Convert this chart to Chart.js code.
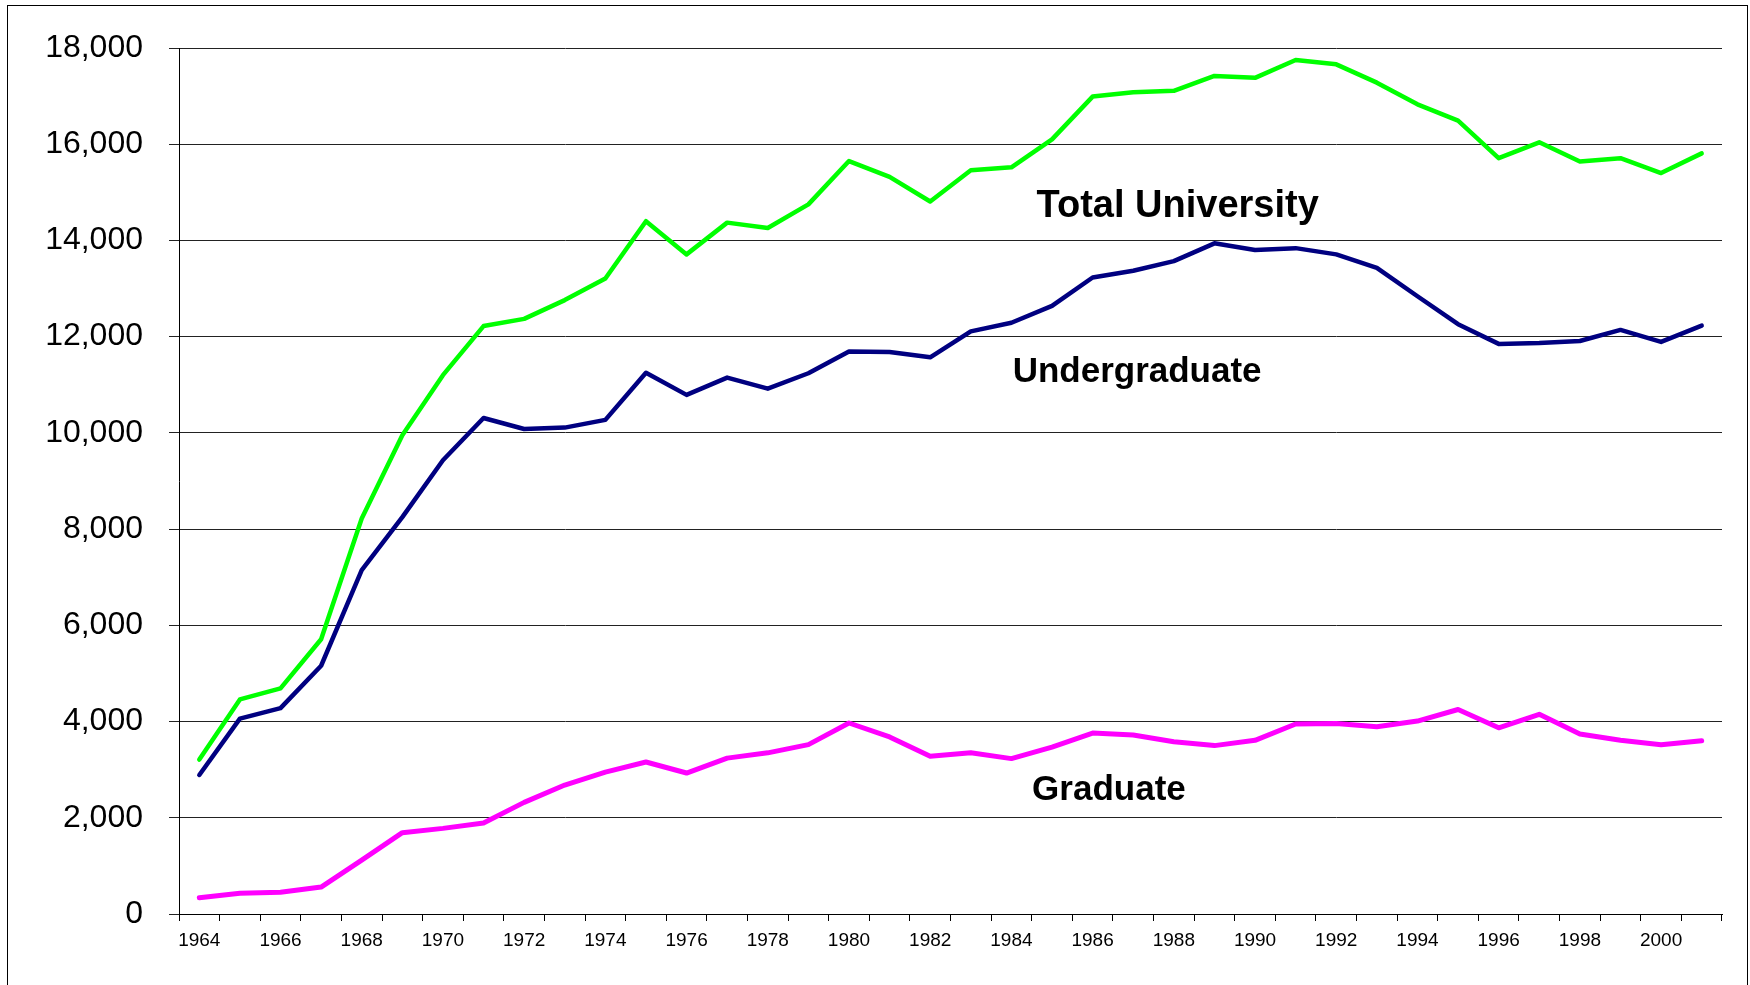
<!DOCTYPE html>
<html>
<head>
<meta charset="utf-8">
<title>University Enrollment</title>
<script src="https://cdn.jsdelivr.net/npm/chart.js@4.4.1/dist/chart.umd.min.js"></script>
<style>
  html, body { margin: 0; padding: 0; background: #fff; overflow: hidden; }
  .frame {
    position: absolute;
    left: 7px;
    top: 5px;
    width: 1741px;
    height: 1000px;
    border: 1px solid #000;
    box-sizing: border-box;
    pointer-events: none;
  }
  #chart { position: absolute; left: 0; top: 0; }
</style>
</head>
<body>
<canvas id="chart" width="1750" height="985"></canvas>
<div class="frame"></div>
<script>
  // years 1964 .. 2001
  const years = [
    "1964", "1965", "1966", "1967", "1968", "1969", "1970", "1971", "1972", "1973",
    "1974", "1975", "1976", "1977", "1978", "1979", "1980", "1981", "1982", "1983",
    "1984", "1985", "1986", "1987", "1988", "1989", "1990", "1991", "1992", "1993",
    "1994", "1995", "1996", "1997", "1998", "1999", "2000", "2001"
  ];

  const totalUniversity = [
    3210, 4460, 4690, 5710, 8220, 9950, 11200, 12220, 12370, 12760,
    13210, 14400, 13710, 14370, 14260, 14750, 15650, 15320, 14810, 15460,
    15520, 16100, 16990, 17080, 17110, 17420, 17380, 17750, 17660, 17280,
    16830, 16490, 15710, 16040, 15640, 15710, 15400, 15810
  ];

  const undergraduate = [
    2890, 4060, 4280, 5160, 7150, 8250, 9430, 10310, 10080, 10110,
    10270, 11250, 10790, 11150, 10920, 11240, 11690, 11680, 11570, 12110,
    12290, 12640, 13230, 13370, 13570, 13940, 13800, 13840, 13710, 13430,
    12840, 12260, 11850, 11870, 11910, 12140, 11890, 12230
  ];

  const graduate = [
    340, 430, 450, 560, 1120, 1690, 1780, 1890, 2320, 2680,
    2950, 3160, 2930, 3240, 3350, 3520, 3970, 3680, 3280, 3350,
    3230, 3470, 3760, 3720, 3580, 3500, 3610, 3950, 3960, 3890,
    4010, 4250, 3870, 4150, 3740, 3610, 3520, 3600
  ];

  const yTicks = [0, 2000, 4000, 6000, 8000, 10000, 12000, 14000, 16000, 18000];

  const seriesNames = ["Total University", "Undergraduate", "Graduate"];

  // text labels placed inside the plot (x = category index, y = value at baseline)
  const seriesLabels = [
    { text: seriesNames[0], at: [20.62, 14490], size: 38 },
    { text: seriesNames[1], at: [20.03, 11060], size: 35 },
    { text: seriesNames[2], at: [20.51, 2370], size: 35 }
  ];

  const FONT = "'Liberation Sans', Arial, Helvetica, sans-serif";

  const inlineLabels = {
    id: "inlineLabels",
    afterDatasetsDraw(chart) {
      const { ctx, scales } = chart;
      ctx.save();
      ctx.fillStyle = "#000";
      ctx.textAlign = "left";
      ctx.textBaseline = "alphabetic";
      seriesLabels.forEach((l) => {
        ctx.font = `bold ${l.size}px ${FONT}`;
        const x = scales.x.getPixelForValue(l.at[0]);
        const y = scales.y.getPixelForValue(l.at[1]);
        ctx.fillText(l.text, x, y);
      });
      ctx.restore();
    }
  };

  const ctx = document.getElementById("chart").getContext("2d");
  new Chart(ctx, {
    type: "line",
    data: {
      labels: years,
      datasets: [
        {
          label: seriesNames[0],
          data: totalUniversity,
          borderColor: "#00FF00",
          borderWidth: 4.5,
        },
        {
          label: seriesNames[1],
          data: undergraduate,
          borderColor: "#000080",
          borderWidth: 4.5,
        },
        {
          label: seriesNames[2],
          data: graduate,
          borderColor: "#FF00FF",
          borderWidth: 5,
        },
      ].map((d) => Object.assign(d, {
        fill: false,
        tension: 0,
        pointRadius: 0,
        pointHoverRadius: 0,
        borderCapStyle: "round",
        borderJoinStyle: "round",
      })),
    },
    options: {
      responsive: false,
      animation: false,
      events: [],
      layout: { padding: { left: 0, right: 28, top: 48, bottom: 0 } },
      plugins: {
        legend: { display: false },
        title: { display: false },
        tooltip: { enabled: false },
      },
      scales: {
        x: {
          offset: true,
          grid: {
            offset: true,
            drawOnChartArea: false,
            drawTicks: true,
            tickLength: 7,
            color: "#000",
          },
          border: { display: true, color: "#000", width: 1 },
          ticks: {
            autoSkip: false,
            maxRotation: 0,
            minRotation: 0,
            padding: 8,
            color: "#000",
            font: { family: FONT, size: 19 },
            callback: function (val, idx) {
              return idx % 2 === 0 ? years[idx] : "";
            },
          },
          afterFit: (s) => { s.height = 71; },
        },
        y: {
          min: yTicks[0],
          max: yTicks[yTicks.length - 1],
          afterBuildTicks: (s) => { s.ticks = yTicks.map((v) => ({ value: v })); },
          grid: {
            color: "#222",
            lineWidth: 1,
            drawTicks: true,
            tickLength: 10,
          },
          border: { display: true, color: "#000", width: 1 },
          ticks: {
            padding: 26,
            color: "#000",
            font: { family: FONT, size: 32 },
            callback: (v) => Number(v).toLocaleString("en-US"),
          },
          afterFit: (s) => { s.width = 179; },
        },
      },
    },
    plugins: [inlineLabels],
  });
</script>
</body>
</html>
